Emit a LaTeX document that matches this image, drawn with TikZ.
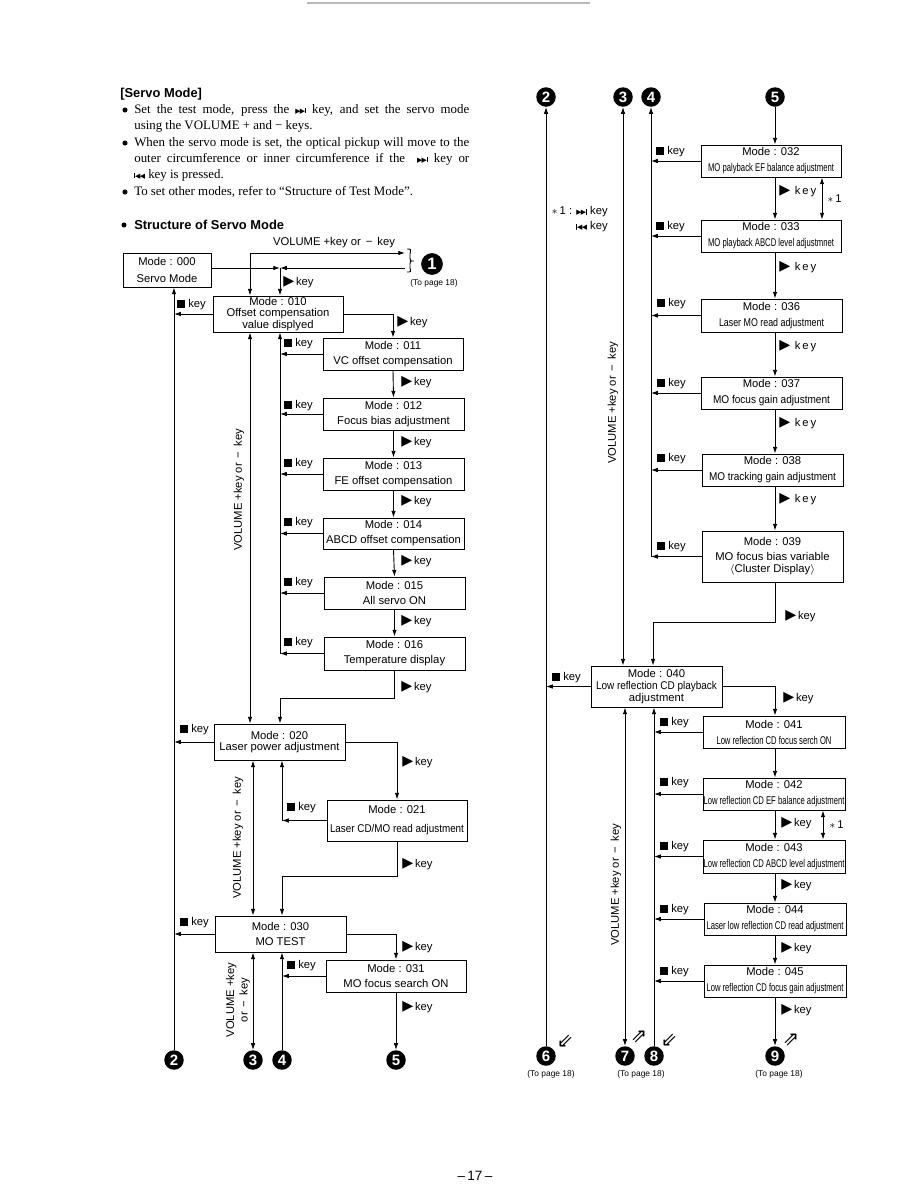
\documentclass[tikz,border=0pt]{standalone}
\usepackage{fontspec}
\usepackage{graphicx}
\setmainfont{Liberation Sans}
\newfontfamily\tms{Liberation Serif}
\newfontfamily\dvs{DejaVu Sans}
\usetikzlibrary{arrows.meta}
\newlength\pxu \setlength\pxu{0.66667pt}
\newcommand\fs{\fontsize{7.5pt}{10pt}\selectfont}
\newcommand\nw[2]{\resizebox{#1\pxu}{\height}{#2}}
\newcommand\nxt{\mbox{\raisebox{0.2pt}{\dvs\fontsize{4.6pt}{4.6pt}\selectfont ▶\kern-0.5pt▶}\rule[0.2pt]{0.6pt}{3.6pt}}}
\newcommand\prv{\mbox{\rule[0.2pt]{0.6pt}{3.6pt}\raisebox{0.2pt}{\dvs\fontsize{4.6pt}{4.6pt}\selectfont ◀\kern-0.5pt◀}}}
\newcommand\bx[6]{\node[box, minimum width={(#4-#2)*0.66667pt}, minimum height={(#5-#3)*0.66667pt}] (#1) at ({(#2+#4)/2},{(#3+#5)/2}) {#6};}
\newcommand\sk[3]{\node (#1) at (#2,#3) [anchor=west, inner sep=0pt, font=\fs] {\rule{5.3pt}{5.3pt}\hspace{2pt}key};}
\newcommand\pk[3]{\node (#1) at (#2,#3) [anchor=west, inner sep=0pt, font=\fs] {\raisebox{-0.4pt}{\dvs\fontsize{9.5pt}{9.5pt}\selectfont ▶}\hspace{1.2pt}key};}
\newcommand\pks[3]{\node (#1) at (#2,#3) [anchor=west, inner sep=0pt, font=\fs] {\raisebox{-0.4pt}{\dvs\fontsize{9.5pt}{9.5pt}\selectfont ▶}\hspace{3pt}k\hspace{1.3pt}e\hspace{1.3pt}y};}
\begin{document}
\begin{tikzpicture}[x=0.66667pt,y=-0.66667pt,
  box/.style={draw, line width=0.6pt, inner sep=0pt, align=center, font=\fs},
  arr/.style={-{Latex[length=4.5pt,width=3pt]}, line width=0.6pt},
  arr2/.style={{Latex[length=4.5pt,width=3pt]}-{Latex[length=4.5pt,width=3pt]}, line width=0.6pt},
  ln/.style={line width=0.6pt},
  circ/.style={circle, fill=black, text=white, inner sep=0pt, minimum size=13pt, font=\bfseries\fontsize{10pt}{10pt}\selectfont},
  txt/.style={anchor=base west, inner sep=0pt, font=\tms\fontsize{8.6pt}{10pt}\selectfont},
  bul/.style={circle, fill=black, inner sep=0pt, minimum size=3.4pt},
  vol/.style={rotate=90, font=\fs, inner sep=0pt, align=center},
  tp/.style={font=\fontsize{5.6pt}{6pt}\selectfont, inner sep=0pt},
  hol/.style={font=\dvs\fontsize{13pt}{13pt}\selectfont, inner sep=0pt}
]
\useasboundingbox[fill=white] (0,0) rectangle (918,1188);
\draw[gray!55, line width=1.2pt] (307,3) -- (590,3);

% ---------- header text ----------
\node[anchor=base west, inner sep=0pt, font=\bfseries\fontsize{8.6pt}{10pt}\selectfont] (title) at (120,97) {[Servo Mode]};
\node[bul] (u1) at (125,110) {};
\node[bul] (u2) at (125,143) {};
\node[bul] (u3) at (125,192) {};
\node[txt] (t1) at (134,113.5) {\makebox[335\pxu][s]{Set the test mode, press the \nxt{} key, and set the servo mode}};
\node[txt] (t2) at (134,129.5) {using the VOLUME + and − keys.};
\node[txt] (t3) at (134,146) {\makebox[335\pxu][s]{When the servo mode is set, the optical pickup will move to the}};
\node[txt] (t4) at (134,162.5) {\makebox[335\pxu][s]{outer circumference or inner circumference if the \ \nxt{} key or}};
\node[txt] (t5) at (134,178.5) {\prv{} key is pressed.};
\node[txt] (t6) at (134,195) {To set other modes, refer to “Structure of Test Mode”.};
\node[bul] (u4) at (124,225) {};
\node[anchor=base west, inner sep=0pt, font=\bfseries\fontsize{8.6pt}{10pt}\selectfont] (sub) at (134,229) {Structure of Servo Mode};

% ---------- left boxes ----------
\bx{b000}{123}{253}{211}{287}{Mode : 000\\[1.3pt]Servo Mode}
\bx{b010}{213}{296}{343}{332}{Mode : 010\\[-2.3pt]Offset compensation\\[-2.3pt]value displyed}
\bx{b011}{323}{338}{463}{370}{Mode : 011\\VC offset compensation}
\bx{b012}{323}{398}{464}{430}{Mode : 012\\Focus bias adjustment}
\bx{b013}{323}{458}{464}{490}{Mode : 013\\FE offset compensation}
\bx{b014}{323}{518}{464}{549}{Mode : 014\\ABCD offset compensation}
\bx{b015}{324}{577}{465}{609}{Mode : 015\\All servo ON}
\bx{b016}{324}{637}{465}{670}{Mode : 016\\Temperature display}
\bx{b020}{214}{724}{345}{760}{Mode : 020\\[-3pt]Laser power adjustment}
\bx{b021}{327}{800}{467}{841}{Mode : 021\\[2.7pt]\nw{134}{Laser CD/MO read adjustment}}
\bx{b030}{215}{916}{346}{952}{Mode : 030\\MO TEST}
\bx{b031}{326}{960}{466}{992}{Mode : 031\\MO focus search ON}

% ---------- right boxes ----------
\bx{b032}{701}{145}{841}{177}{Mode : 032\\[0.7pt]\nw{126}{MO palyback EF balance adjustment}}
\bx{b033}{701}{220}{841}{252}{Mode : 033\\[0.7pt]\nw{126}{MO playback ABCD level adjustmnet}}
\bx{b036}{701}{299}{842}{332}{Mode : 036\\[0.7pt]\nw{105}{Laser MO read adjustment}}
\bx{b037}{701}{377}{842}{409}{Mode : 037\\[0.7pt]\nw{117}{MO focus gain adjustment}}
\bx{b038}{702}{454}{843}{486}{Mode : 038\\[0.7pt]\nw{127}{MO tracking gain adjustment}}
\bx{b039}{702}{531}{843}{582}{Mode : 039\\MO focus bias variable\\[-2pt]$\langle$Cluster Display$\rangle$}
\bx{b040}{591}{666}{722}{707}{Mode : 040\\[-2pt]\nw{121}{Low reflection CD playback}\\[-2pt]adjustment}
\bx{b041}{703}{716}{845}{748}{Mode : 041\\[0.7pt]\nw{115}{Low reflection CD focus serch ON}}
\bx{b042}{703}{778}{845}{810}{Mode : 042\\[0.7pt]\nw{141}{Low reflection CD EF balance adjustment}}
\bx{b043}{703}{840}{845}{873}{Mode : 043\\[0.7pt]\nw{141}{Low reflection CD ABCD level adjustment}}
\bx{b044}{704}{903}{846}{935}{Mode : 044\\[0.7pt]\nw{137}{Laser low reflection CD read adjustment}}
\bx{b045}{704}{965}{846}{997}{Mode : 045\\[0.7pt]\nw{137}{Low reflection CD focus gain adjustment}}

% ---------- circled numbers ----------
\node[circ, minimum size=14.5pt, font=\bfseries\fontsize{11pt}{11pt}\selectfont] (c1) at (432,264) {1};
\node[tp] (tp1) at (434,283) {(To page 18)};
\node[circ] (c2) at (174,1060) {2};
\node[circ] (c3) at (253,1060) {3};
\node[circ] (c4) at (282,1060) {4};
\node[circ] (c5) at (396,1060) {5};
\node[circ] (c2r) at (546,97) {2};
\node[circ] (c3r) at (623,97) {3};
\node[circ] (c4r) at (651,97) {4};
\node[circ] (c5r) at (775,97) {5};
\node[circ] (c6) at (546,1056) {6};
\node[circ] (c7) at (625,1056) {7};
\node[circ] (c8) at (654,1056) {8};
\node[circ] (c9) at (775,1056) {9};
\node[tp] (tp6) at (551,1074) {(To page 18)};
\node[tp] (tp7) at (641,1074) {(To page 18)};
\node[tp] (tp9) at (779,1074) {(To page 18)};
\node[hol] (h6) at (565,1041) {⇙};
\node[hol] (h7) at (639,1037) {⇗};
\node[hol] (h8) at (669,1040) {⇙};
\node[hol] (h9) at (791,1040) {⇗};

% ---------- left connectors ----------
\coordinate (j1) at (280,268);
\coordinate (bt) at (405,253);
\coordinate (bb) at (405,268);
\coordinate (vt) at (250,253);
\node[font=\fs, inner sep=0pt] (vlab) at (334,243) {VOLUME +key or \,−\, key};
\draw[ln] (407,249) .. controls (411,249) .. (410,254) -- (410,258) .. controls (410,261) .. (414,261) .. controls (410,261) .. (410,264) -- (410,268) .. controls (411,272) .. (407,272);
\draw[arr] (b000.east |- j1) -- (j1);
\draw[arr] (bb) -- (j1);
\draw[arr] (j1) -- (j1 |- b010.north);
\draw[arr2] (b010.north -| vt) -- (vt) -- (bt);
\pk{p0}{283}{282}

\draw[arr] (c2.north) -- (c2 |- b000.south);
\foreach \b in {010,020,030} { \draw[arr] (b\b.west) -- (b\b.west -| c2); }
\sk{s010}{177}{305}
\sk{s020}{180}{730}
\sk{s030}{180}{923}

\draw[arr] (b010.east) -| (b011.north);
\pk{p010}{397}{322}
\draw[arr] (b011.south) -- (b012.north);
\draw[arr] (b012.south) -- (b013.north);
\draw[arr] (b013.south) -- (b014.north);
\draw[arr] (b014.south) -- (b015.north);
\draw[arr] (b015.south) -- (b016.north);
\pk{p011}{401}{382}
\pk{p012}{401}{442}
\pk{p013}{401}{501}
\pk{p014}{401}{561}
\pk{p015}{401}{621}
\pk{p016}{401}{687}
\draw[arr] (b016.west -| j1) -- (b010.south -| j1);
\foreach \b in {011,012,013,014,015,016} { \draw[arr] (b\b.west) -- (b\b.west -| j1); }
\sk{s011}{284}{344}
\sk{s012}{284}{406}
\sk{s013}{284}{464}
\sk{s014}{284}{523}
\sk{s015}{284}{583}
\sk{s016}{284}{643}
\node[vol] (v1) at (239,490) {VOLUME +key or \,−\, key};
\draw[arr2] (b010.south -| vt) -- (b020.north -| vt);

\coordinate (k1) at (280,698);
\draw[arr] (b016.south) |- (k1) -- (k1 |- b020.north);
\draw[arr] (b020.east) -| (b021.north);
\pk{p020}{402}{762}
\draw[arr] (b021.west) -- (b021.west -| c4);
\draw[arr] (b021.west -| c4) -- (b020.south -| c4);
\sk{s021}{287}{808}
\draw[arr2] (b020.south -| c3) -- (b030.north -| c3);
\node[vol] (v2) at (238,838) {VOLUME +key or \,−\, key};
\coordinate (k2) at (282,876);
\draw[arr] (b021.south) |- (k2) -- (k2 |- b030.north);
\pk{p021}{402}{864}
\draw[arr] (b030.east) -| (b031.north);
\pk{p030}{402}{947}
\draw[arr] (b031.west) -- (b031.west -| c4);
\sk{s031}{287}{966}
\draw[arr] (c4.north) -- (c4 |- b030.south);
\draw[arr2] (b030.south -| c3) -- (c3.north);
\node[vol] (v3) at (238,1000) {VOLUME +key\\[-1pt]or \,−\, key};
\draw[arr] (b031.south) -- (b031.south |- c5.north);
\pk{p031}{402}{1007}

% ---------- right connectors ----------
\draw[arr] (c6.north) -- (c2r.south);
\draw[arr2] (c3r.south) -- (c3r |- b040.north);
\coordinate (j4) at (b039.west -| c4r);
\draw[arr] (j4) -- (c4r.south);
\foreach \b in {032,033,036,037,038,039} { \draw[arr] (b\b.west) -- (b\b.west -| c4r); }
\sk{s032}{656}{152}
\sk{s033}{656}{227}
\sk{s036}{657}{304}
\sk{s037}{657}{384}
\sk{s038}{657}{459}
\sk{s039}{657}{547}
\node[vol] (v4) at (613,403) {VOLUME +key or \,−\, key};
\node[font=\fs, anchor=east, inner sep=0pt] (n1) at (608,212) {$\ast$\,1 : \nxt{} key};
\node[font=\fs, anchor=east, inner sep=0pt] (n2) at (608,227) {\prv{} key};

\draw[arr] (c5r.south) -- (b032.north -| c5r);
\draw[arr] (b032.south -| c5r) -- (b033.north -| c5r);
\draw[arr] (b033.south -| c5r) -- (b036.north -| c5r);
\draw[arr] (b036.south -| c5r) -- (b037.north -| c5r);
\draw[arr] (b037.south -| c5r) -- (b038.north -| c5r);
\draw[arr] (b038.south -| c5r) -- (b039.north -| c5r);
\pks{q032}{779}{191}
\pks{q033}{779}{267}
\pks{q036}{779}{346}
\pks{q037}{779}{423}
\pks{q038}{779}{499}
\coordinate (a1) at (822,0);
\draw[arr2] (b032.south -| a1) -- (b033.north -| a1);
\node[font=\fs, anchor=west, inner sep=0pt] (m1) at (827,199) {$\ast$\,1};

\coordinate (k3) at (653,622);
\draw[arr] (b039.south -| c5r) |- (k3) -- (k3 |- b040.north);
\pk{q039}{785}{616}
\draw[arr] (b040.west) -- (b040.west -| c6);
\sk{s040}{552}{678}
\draw[arr] (b040.east) -| (b041.north -| c9);
\pk{q040}{783}{698}
\draw[arr2] (b040.south -| c7) -- (c7.north);
\draw[arr] (c8.north) -- (c8 |- b040.south);
\foreach \b in {041,042,043,044,045} { \draw[arr] (b\b.west) -- (b\b.west -| c8); }
\sk{s041}{660}{723}
\sk{s042}{660}{783}
\sk{s043}{660}{847}
\sk{s044}{660}{910}
\sk{s045}{660}{972}
\node[vol] (v5) at (616,885) {VOLUME +key or \,−\, key};
\draw[arr] (b041.south -| c9) -- (b042.north -| c9);
\draw[arr] (b042.south -| c9) -- (b043.north -| c9);
\draw[arr] (b043.south -| c9) -- (b044.north -| c9);
\draw[arr] (b044.south -| c9) -- (b045.north -| c9);
\draw[arr] (b045.south -| c9) -- (c9.north);
\pk{q042}{781}{823}
\pk{q043}{781}{885}
\pk{q044}{781}{948}
\pk{q045}{781}{1010}
\coordinate (a2) at (823,0);
\draw[arr2] (b042.south -| a2) -- (b043.north -| a2);
\node[font=\fs, anchor=west, inner sep=0pt] (m2) at (829,825) {$\ast$\,1};

\node[font=\fontsize{9pt}{9pt}\selectfont, inner sep=0pt] (pg) at (475,1176) {–\,17\,–};
\end{tikzpicture}
\end{document}
